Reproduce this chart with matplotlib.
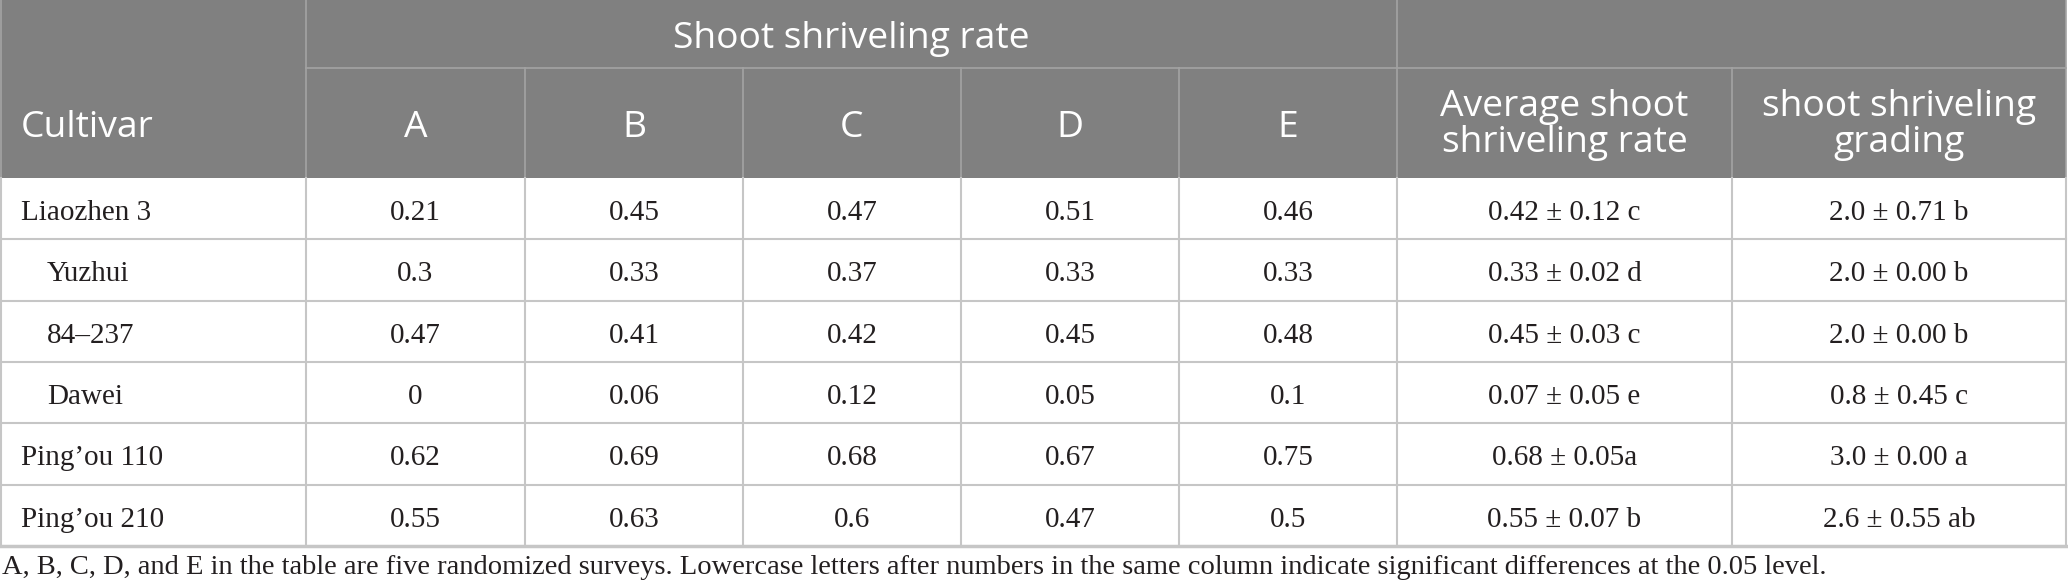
import matplotlib
matplotlib.use('Agg')
import matplotlib.pyplot as plt
from matplotlib.patches import Rectangle

# table content
cultivars = ['Liaozhen 3', 'Yuzhui', '84\u2013237', 'Dawei', 'Ping\u2019ou 110', 'Ping\u2019ou 210']
indented = [False, True, True, True, False, False]
survey_labels = ['A', 'B', 'C', 'D', 'E']
rate_A = [0.21, 0.3, 0.47, 0, 0.62, 0.55]
rate_B = [0.45, 0.33, 0.41, 0.06, 0.69, 0.63]
rate_C = [0.47, 0.37, 0.42, 0.12, 0.68, 0.6]
rate_D = [0.51, 0.33, 0.45, 0.05, 0.67, 0.47]
rate_E = [0.46, 0.33, 0.48, 0.1, 0.75, 0.5]
avg_rate = ['0.42 \u00b1 0.12 c', '0.33 \u00b1 0.02 d', '0.45 \u00b1 0.03 c',
            '0.07 \u00b1 0.05 e', '0.68 \u00b1 0.05a', '0.55 \u00b1 0.07 b']
grading = ['2.0 \u00b1 0.71 b', '2.0 \u00b1 0.00 b', '2.0 \u00b1 0.00 b',
           '0.8 \u00b1 0.45 c', '3.0 \u00b1 0.00 a', '2.6 \u00b1 0.55 ab']
group_title = 'Shoot shriveling rate'
extra_headers = [['Average shoot', 'shriveling rate'], ['shoot shriveling', 'grading']]
first_header = 'Cultivar'
footnote = ('A, B, C, D, and E in the table are five randomized surveys. Lowercase letters '
            'after numbers in the same column indicate significant differences at the 0.05 level.')

W, H = 2068, 586
col_edges = [0, 306, 525, 743, 961, 1179, 1397, 1732, 2066]
head1_bottom = 68
head_bottom = 178
row_h = 61.3

head_bg = '#808080'
head_line = '#a3a3a3'
body_line = '#c6c6c6'
text_col = '#231f20'
head_font = 'Open Sans'
body_font = 'Liberation Serif'
hs = 26.8
bs = 21

fig = plt.figure(figsize=(W / 100, H / 100), dpi=100)
ax = fig.add_axes([0, 0, 1, 1])
ax.set_xlim(0, W)
ax.set_ylim(H, 0)
ax.axis('off')

# header background and grid
ax.add_patch(Rectangle((0, 0), col_edges[-1], head_bottom, color=head_bg, lw=0))
ax.plot([col_edges[1], col_edges[-1]], [head1_bottom, head1_bottom], color=head_line, lw=1.2)
for x in [col_edges[1], col_edges[6]]:
    ax.plot([x, x], [0, head_bottom], color=head_line, lw=1.2)
for x in col_edges[2:6] + [col_edges[7]]:
    ax.plot([x, x], [head1_bottom, head_bottom], color=head_line, lw=1.2)
ax.plot([0.8, 0.8], [0, head_bottom], color=head_line, lw=1.2)
ax.plot([col_edges[-1], col_edges[-1]], [0, head_bottom], color=head_line, lw=1.2)

# header text (baselines)
base2 = 137
ax.text(21, base2, first_header, color='white', fontsize=hs, family=head_font,
        ha='left', va='baseline')
ax.text((col_edges[1] + col_edges[6]) / 2, 48, group_title, color='white',
        fontsize=hs, family=head_font, ha='center', va='baseline')
for i, lab in enumerate(survey_labels):
    ax.text((col_edges[i + 1] + col_edges[i + 2]) / 2, base2, lab, color='white',
            fontsize=hs, family=head_font, ha='center', va='baseline')
for i, lines in enumerate(extra_headers):
    xc = (col_edges[i + 6] + col_edges[i + 7]) / 2
    for yb, s in zip([116, 152], lines):
        ax.text(xc, yb, s, color='white', fontsize=hs, family=head_font,
                ha='center', va='baseline')

# body
n = len(cultivars)
table_bottom = head_bottom + n * row_h
for r in range(n):
    y0 = head_bottom + r * row_h
    yb = y0 + row_h / 2 + 11.5
    if r > 0:
        ax.plot([0, col_edges[-1]], [y0, y0], color=body_line, lw=1.5)
    x_name = 47 if indented[r] else 21
    ax.text(x_name, yb, cultivars[r], color=text_col, fontsize=bs, family=body_font,
            ha='left', va='baseline')
    vals = [rate_A[r], rate_B[r], rate_C[r], rate_D[r], rate_E[r]]
    cells = [f'{v:g}' for v in vals] + [avg_rate[r], grading[r]]
    for c, s in enumerate(cells):
        ax.text((col_edges[c + 1] + col_edges[c + 2]) / 2, yb, s, color=text_col,
                fontsize=bs, family=body_font, ha='center', va='baseline')

for x in col_edges:
    xx = min(max(x, 0.8), col_edges[-1])
    ax.plot([xx, xx], [head_bottom, table_bottom], color=body_line, lw=1.5)
ax.plot([0, col_edges[-1]], [table_bottom, table_bottom], color=body_line, lw=2.5)

ax.text(2, 567, footnote, color=text_col, fontsize=20.5, family=body_font,
        ha='left', va='center')

fig.savefig('out.png', dpi=100)
